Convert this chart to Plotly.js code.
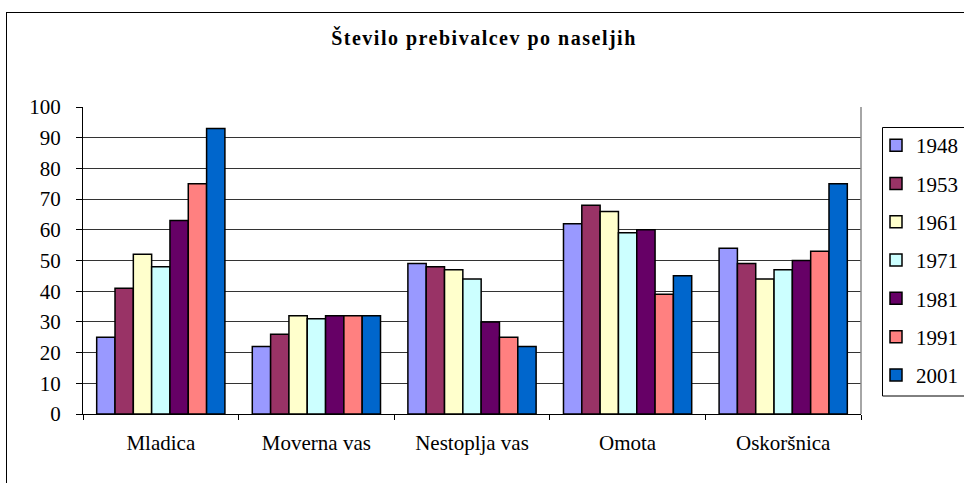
<!DOCTYPE html>
<html>
<head>
<meta charset="utf-8">
<script src="https://cdn.plot.ly/plotly-3.0.1.min.js"></script>
<style>
  html, body { margin: 0; padding: 0; background: #fff; overflow: hidden; width: 964px; height: 483px; }
  #frame { position: absolute; left: 6px; top: 12px; width: 1100px; height: 1100px; border: 1px solid #000; box-sizing: border-box; }
  #chart { position: absolute; left: 0; top: 0; width: 1010px; height: 483px; }
  .gtitle { letter-spacing: 1.5px; }
</style>
</head>
<body>
<div id="frame"></div>
<div id="chart"></div>
<script>
const categories = ["Mladica", "Moverna vas", "Nestoplja vas", "Omota", "Oskoršnica"];
const years = ["1948", "1953", "1961", "1971", "1981", "1991", "2001"];
const v1948 = [25, 22, 49, 62, 54];
const v1953 = [41, 26, 48, 68, 49];
const v1961 = [52, 32, 47, 66, 44];
const v1971 = [48, 31, 44, 59, 47];
const v1981 = [63, 32, 30, 60, 50];
const v1991 = [75, 32, 25, 39, 53];
const v2001 = [93, 32, 22, 45, 75];
const seriesValues = [v1948, v1953, v1961, v1971, v1981, v1991, v2001];
const colors = ["#9999FF", "#993366", "#FFFFCC", "#CCFFFF", "#660066", "#FF8080", "#0066CC"];
const yTicks = [0, 10, 20, 30, 40, 50, 60, 70, 80, 90, 100];

const font = "'Liberation Serif', 'Times New Roman', serif";

const traces = years.map((y, i) => ({
  type: "bar",
  name: y,
  x: categories,
  y: seriesValues[i],
  legendgroup: "g" + i,
  marker: { color: colors[i], line: { color: "#000", width: 1.5 } },
  hoverinfo: "x+y+name"
}));

// plot area pixel geometry helpers (paper coordinates)
const L = 83, R = 861, T = 107, B = 414;
const px = v => (v - L) / (R - L);
const py = v => (B - v) / (B - T);

const layout = {
  width: 1010,
  height: 483,
  paper_bgcolor: "rgba(0,0,0,0)",
  plot_bgcolor: "#fff",
  margin: { l: L, r: 1010 - R, t: T, b: 483 - B },
  bargap: 0.176,
  bargroupgap: 0,
  barmode: "group",
  title: {
    text: "<b>Število prebivalcev po naseljih</b>",
    font: { family: font, size: 20, color: "#000" },
    x: 484 / 1010, xanchor: "center",
    y: 0.921, yanchor: "middle"
  },
  xaxis: {
    type: "category",
    showline: true, linecolor: "#000", linewidth: 1,
    ticks: "outside", tickson: "boundaries", ticklen: 5, tickcolor: "#000",
    tickfont: { family: font, size: 21, color: "#000" },
    ticklabelstandoff: 10,
    showgrid: false, zeroline: false, fixedrange: true
  },
  yaxis: {
    range: [0, 100],
    tickvals: yTicks,
    showline: true, linecolor: "#000", linewidth: 1,
    ticks: "outside", ticklen: 6, tickcolor: "#000",
    tickfont: { family: font, size: 21, color: "#000" },
    ticklabelstandoff: 11,
    showgrid: true, gridcolor: "#333", gridwidth: 1,
    zeroline: false, fixedrange: true
  },
  legend: {
    x: px(876), xanchor: "left",
    y: py(125), yanchor: "top",
    borderwidth: 0,
    bgcolor: "rgba(0,0,0,0)",
    font: { family: font, size: 21, color: "#000" },
    tracegroupgap: 8,
    itemwidth: 30,
    itemclick: false, itemdoubleclick: false
  },
  shapes: [
    { type: "line", xref: "paper", yref: "paper", x0: 1, x1: 1, y0: 0, y1: 1,
      line: { color: "#888", width: 1.5 } },
    { type: "rect", xref: "paper", yref: "paper",
      x0: px(882.5), x1: px(1005), y0: py(396), y1: py(127.5),
      line: { color: "#000", width: 1 }, fillcolor: "rgba(0,0,0,0)" }
  ],
  showlegend: true
};

Plotly.newPlot("chart", traces, layout, { displayModeBar: false, staticPlot: true });
</script>
</body>
</html>
